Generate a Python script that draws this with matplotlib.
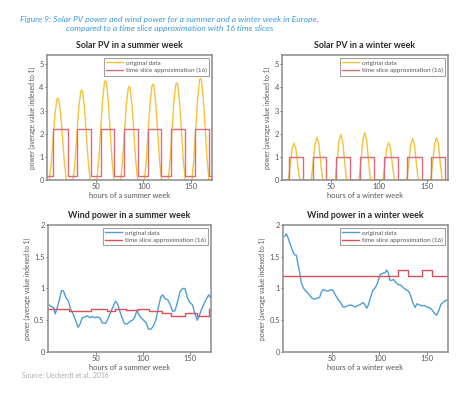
import matplotlib
matplotlib.use("Agg")
import matplotlib.pyplot as plt

plt.rcParams['font.family'] = ['Lato', 'DejaVu Sans']

# solar, summer week (hours, power)
solar_sum_x = [-1, 1, 3, 5, 7, 9, 10, 11, 13, 15, 17, 19,
               26, 28, 30, 32, 34, 35, 36, 38, 40, 42, 44,
               51, 53, 55, 57, 59, 60, 61, 63, 65, 67, 69,
               76, 78, 80, 82, 84, 85, 86, 88, 90, 92, 94,
               101, 103, 105, 107, 109, 110, 111, 113, 115, 117, 119,
               126, 128, 130, 132, 134, 135, 136, 138, 140, 142, 144,
               151, 153, 155, 157, 159, 160, 161, 163, 165, 167, 169, 172]
solar_sum_y = [0, 0, 0.7, 1.8, 2.85, 3.48, 3.55, 3.48, 2.85, 1.8, 0.7, 0,
               0, 0.78, 1.95, 3.12, 3.82, 3.9, 3.82, 3.12, 1.95, 0.78, 0,
               0, 0.86, 2.15, 3.44, 4.21, 4.3, 4.21, 3.44, 2.15, 0.86, 0,
               0, 0.81, 2.0, 3.24, 3.97, 4.05, 3.97, 3.24, 2.0, 0.81, 0,
               0, 0.83, 2.08, 3.32, 4.07, 4.15, 4.07, 3.32, 2.08, 0.83, 0,
               0, 0.84, 2.1, 3.36, 4.12, 4.2, 4.12, 3.36, 2.1, 0.84, 0,
               0, 0.88, 2.2, 3.52, 4.31, 4.4, 4.31, 3.52, 2.2, 0.88, 0, 0]
solar_sum_ts_x = [-1, 4.5, 20.5, 30.5, 45, 55, 69.5, 80, 94, 104.5, 119, 129.5, 144, 154, 169, 172]
solar_sum_ts_y = [0.2, 2.2, 0.2, 2.2, 0.2, 2.2, 0.2, 2.2, 0.2, 2.2, 0.2, 2.2, 0.2, 2.2, 0.2, 0.2]

# solar, winter week
solar_win_x = [-1, 5, 7, 9, 11, 13, 15, 17,
               29, 31, 33, 35, 37, 39, 41,
               54, 56, 58, 60, 62, 64, 66,
               79, 81, 83, 85, 87, 89, 91,
               104, 106, 108, 110, 112, 114, 116,
               129, 131, 133, 135, 137, 139, 141,
               154, 156, 158, 160, 162, 164, 166, 172]
solar_win_y = [0, 0, 0.64, 1.36, 1.6, 1.36, 0.64, 0,
               0, 0.74, 1.57, 1.85, 1.57, 0.74, 0,
               0, 0.79, 1.67, 1.97, 1.67, 0.79, 0,
               0, 0.82, 1.74, 2.05, 1.74, 0.82, 0,
               0, 0.65, 1.38, 1.62, 1.38, 0.65, 0,
               0, 0.72, 1.53, 1.8, 1.53, 0.72, 0,
               0, 0.73, 1.56, 1.83, 1.56, 0.73, 0, 0]
solar_win_ts_x = [-1, 5.5, 20, 30.5, 45, 55, 69.5, 80, 94.5, 105, 119.5, 129.5, 144.5, 154.5, 169, 172]
solar_win_ts_y = [0, 1, 0, 1, 0, 1, 0, 1, 0, 1, 0, 1, 0, 1, 0, 0]

# wind, summer week
wind_sum_x = [0, 2.5, 4.6, 6.3, 8.1, 10.6, 13, 15.1, 17.6, 20.1, 22.9, 25.7, 28.2, 30.6,
              32.7, 35.2, 37.7, 40.5, 43.3, 45.8, 48.2, 51.1, 53.9, 56.3, 59.9, 62.3,
              65.1, 68, 70.4, 72.9, 75, 77.5, 79.9, 82.7, 85.6, 88.4, 90.8, 93.3, 95.1,
              97.5, 100.4, 103.2, 105.6, 108.1, 110.9, 113.7, 116.2, 118.7, 120.8, 123.2,
              126.1, 128.5, 131.3, 133.8, 136.3, 139.1, 141.9, 144.4, 146.8, 149.6, 152.5,
              154.9, 157.4, 159.5, 162, 164.4, 167.3, 169.7, 171.8]
wind_sum_y = [0.74, 0.71, 0.70, 0.60, 0.68, 0.81, 0.97, 0.96, 0.86, 0.81, 0.67, 0.59, 0.49, 0.39,
              0.44, 0.54, 0.55, 0.57, 0.54, 0.56, 0.54, 0.55, 0.54, 0.46, 0.45, 0.52,
              0.62, 0.72, 0.80, 0.75, 0.64, 0.54, 0.45, 0.44, 0.48, 0.50, 0.54, 0.66, 0.59,
              0.54, 0.50, 0.46, 0.36, 0.36, 0.41, 0.52, 0.71, 0.87, 0.90, 0.84,
              0.82, 0.75, 0.64, 0.65, 0.78, 0.95, 1.00, 1.00, 0.86, 0.78, 0.74,
              0.60, 0.50, 0.57, 0.67, 0.75, 0.84, 0.90, 0.85]
wind_sum_ts_x = [-1, 21, 44, 61, 70, 82, 94, 106, 120, 130, 144, 157, 170, 172]
wind_sum_ts_y = [0.68, 0.65, 0.68, 0.65, 0.68, 0.66, 0.68, 0.65, 0.62, 0.57, 0.62, 0.57, 0.68, 0.68]

# wind, winter week
wind_win_x = [0.3, 2.1, 3.8, 5.6, 7.3, 9.1, 10.8, 12.6, 14.3, 16.1, 17.8, 19.6, 21.3, 24.1,
              26.6, 29, 31.8, 34.6, 37.1, 38.8, 40.6, 43, 45.8, 48.6, 51, 53.5, 56.3, 59.1,
              61.5, 64, 66.8, 69.6, 72, 74.5, 77.3, 80.1, 82.5, 84.3, 86.7, 88.5, 90.6, 93,
              95.5, 97.6, 99.3, 101, 103.5, 105.9, 107.7, 109.4, 110.8, 112.9, 115, 117.5,
              119.9, 122.7, 125.2, 128, 130.4, 132.5, 135, 137.4, 139.5, 142, 144.4, 147.2,
              150, 152.4, 154.9, 157.7, 160.1, 162.2, 164.7, 167.5, 169.9, 172.4]
wind_win_y = [1.82, 1.86, 1.80, 1.72, 1.65, 1.57, 1.53, 1.52, 1.38, 1.25, 1.09, 1.02, 0.98, 0.94,
              0.89, 0.85, 0.83, 0.85, 0.86, 0.94, 0.98, 0.97, 0.96, 0.98, 0.97, 0.90, 0.83, 0.78,
              0.71, 0.71, 0.73, 0.74, 0.73, 0.71, 0.73, 0.75, 0.78, 0.75, 0.69, 0.75, 0.86, 0.97,
              1.01, 1.07, 1.16, 1.22, 1.24, 1.25, 1.29, 1.24, 1.13, 1.13, 1.14, 1.09,
              1.06, 1.05, 1.01, 0.98, 0.96, 0.90, 0.78, 0.70, 0.76, 0.74, 0.73, 0.73,
              0.71, 0.70, 0.67, 0.61, 0.58, 0.65, 0.75, 0.79, 0.81, 0.83]
wind_win_ts_x = [-1, 120, 130.5, 145, 155, 172]
wind_win_ts_y = [1.2, 1.29, 1.2, 1.29, 1.2, 1.2]

yellow = '#f6c238'
red = '#d9505a'
pink = '#dc6d78'
blue = '#4a9fd8'
grey = '#555555'

fig = plt.figure(figsize=(4.74, 3.96), dpi=100)

panels = [
    ([0.099, 0.545, 0.348, 0.316], "Solar PV in a summer week", "hours of a summer week",
     solar_sum_x, solar_sum_y, solar_sum_ts_x, solar_sum_ts_y, yellow, pink, 5.4, [0, 1, 2, 3, 4, 5]),
    ([0.595, 0.545, 0.350, 0.316], "Solar PV in a winter week", "hours of a winter week",
     solar_win_x, solar_win_y, solar_win_ts_x, solar_win_ts_y, yellow, pink, 5.4, [0, 1, 2, 3, 4, 5]),
    ([0.101, 0.111, 0.344, 0.321], "Wind power in a summer week", "hours of a summer week",
     wind_sum_x, wind_sum_y, wind_sum_ts_x, wind_sum_ts_y, blue, red, 2, [0, 0.5, 1, 1.5, 2]),
    ([0.597, 0.111, 0.348, 0.321], "Wind power in a winter week", "hours of a winter week",
     wind_win_x, wind_win_y, wind_win_ts_x, wind_win_ts_y, blue, red, 2, [0, 0.5, 1, 1.5, 2]),
]

for rect, title, xlabel, x, y, tx, ty, c1, c2, ymax, yticks in panels:
    ax = fig.add_axes(rect)
    ax.plot(x, y, color=c1, lw=1.0, label='original data')
    ax.step(tx, ty, where='post', color=c2, lw=1.0, label='time slice approximation (16)')
    ax.set_xlim(-1.5, 172)
    ax.set_ylim(0, ymax)
    ax.set_xticks([50, 100, 150])
    ax.set_yticks(yticks)
    ax.set_yticklabels([('%g' % t) for t in yticks])
    ax.tick_params(labelsize=5.4, colors=grey, length=1.5, width=0.6, direction='out')
    ax.tick_params(axis='x', pad=0.5)
    ax.tick_params(axis='y', pad=0.8)
    for s in ax.spines.values():
        s.set_color('#8a8a8a')
        s.set_linewidth(1.1)
    ax.set_title(title, fontsize=6.4, fontweight='bold', color='#2a2a2a', pad=5)
    ax.set_xlabel(xlabel, fontsize=5.4, color=grey, labelpad=1.5)
    ax.set_ylabel('power (average value indexed to 1)', fontsize=4.8, color=grey, labelpad=2.5)
    leg = ax.legend(loc='upper right', fontsize=4.6, frameon=True, fancybox=False,
                    handlelength=2.6, handletextpad=0.5, borderpad=0.35, labelspacing=0.35,
                    borderaxespad=0.45)
    leg.get_frame().set_edgecolor('#8a8a8a')
    leg.get_frame().set_linewidth(0.8)
    for t in leg.get_texts():
        t.set_color(grey)

fig.text(0.357, 0.94, "Figure 9: Solar PV power and wind power for a summer and a winter week in Europe,\n"
         "compared to a time slice approximation with 16 time slices",
         ha='center', va='center', fontsize=6.1, style='italic', color='#3a9ad6',
         multialignment='center', linespacing=1.4)
fig.text(0.046, 0.053, "Source: Ueckerdt et al., 2016", fontsize=4.9, color='#aaaaaa', va='center')

fig.savefig('out.png', dpi=100)
